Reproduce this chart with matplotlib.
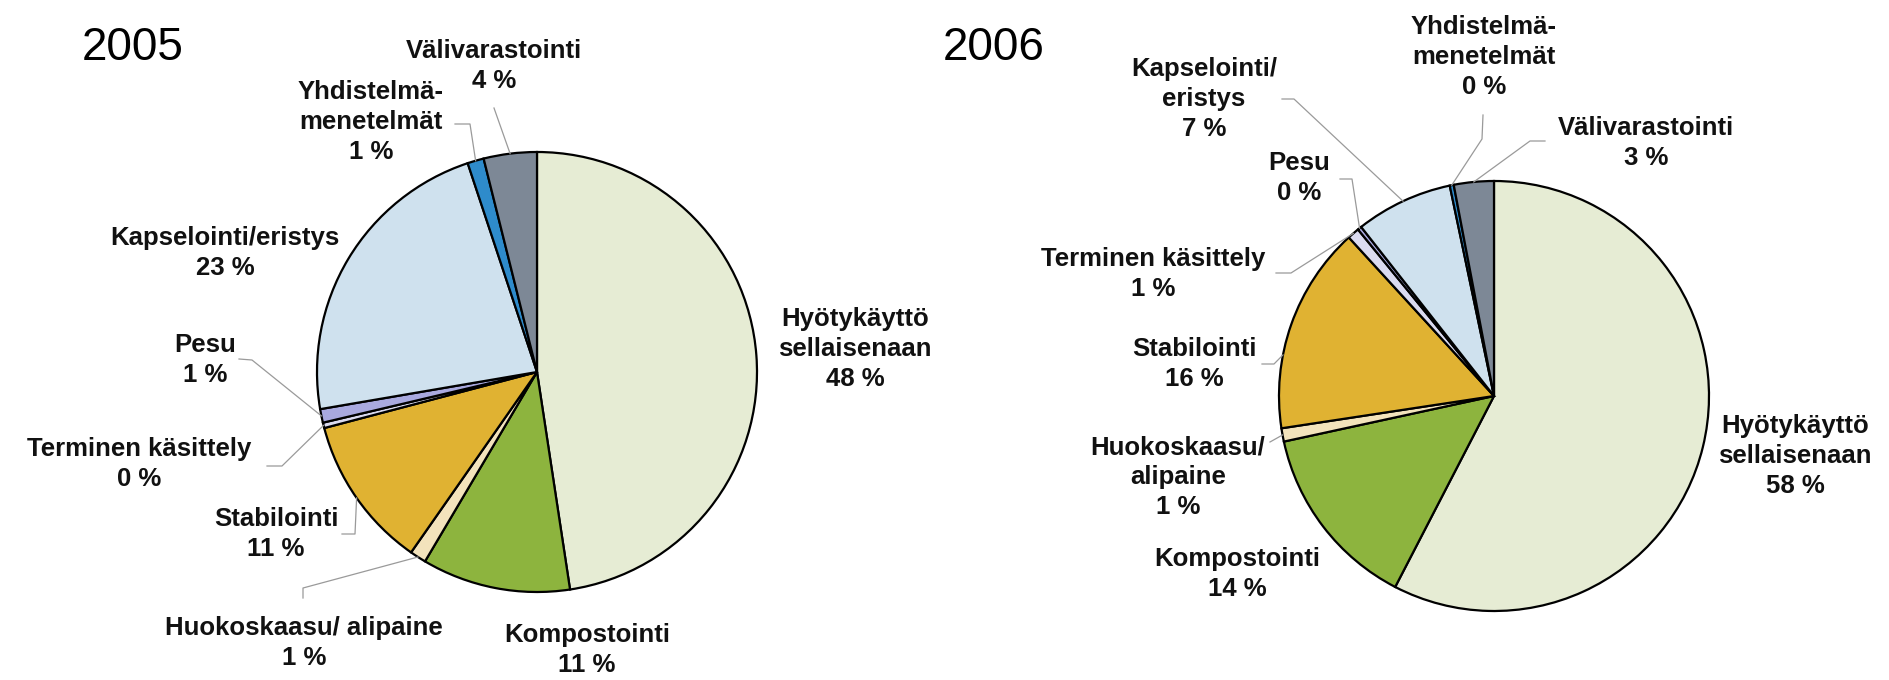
import numpy as np
import matplotlib
matplotlib.use("Agg")
import matplotlib.pyplot as plt

plt.rcParams['font.family'] = ['Liberation Sans', 'DejaVu Sans']

# osuudet (%) myötäpäivään ylhäältä alkaen
kategoriat = ["Hyötykäyttö\nsellaisenaan", "Kompostointi", "Huokoskaasu/ alipaine",
              "Stabilointi", "Terminen käsittely", "Pesu", "Kapselointi/eristys",
              "Yhdistelmä-\nmenetelmät", "Välivarastointi"]
kategoriat_2006 = ["Hyötykäyttö\nsellaisenaan", "Kompostointi", "Huokoskaasu/\nalipaine",
                   "Stabilointi", "Terminen käsittely", "Pesu", "Kapselointi/\neristys",
                   "Yhdistelmä-\nmenetelmät", "Välivarastointi"]
osuus_2005 = [47.6, 10.9, 1.2, 11.2, 0.4, 1.0, 22.6, 1.2, 3.9]
osuus_2006 = [57.6, 14.0, 1.0, 15.6, 0.9, 0.3, 7.3, 0.3, 3.0]
varit = ["#E6ECD4", "#8DB43E", "#F3E3BC", "#E0B232", "#DADAF0",
         "#A9A9DF", "#CFE1EE", "#2E8BCB", "#7D8896"]

W, H = 1889, 680
fig = plt.figure(figsize=(W / 100, H / 100), dpi=100)

# overlay kuvapikseleissä (y alaspäin)
ov = fig.add_axes([0, 0, 1, 1], zorder=5)
ov.set_xlim(0, W)
ov.set_ylim(H, 0)
ov.axis('off')


def piirra_piirakka(arvot, cx, cy, r, vuosi, vuosi_x, nimet, tekstit, johtimet):
    ax = fig.add_axes([(cx - r) / W, (H - cy - r) / H, 2 * r / W, 2 * r / H])
    ax.pie(arvot, colors=varit, startangle=90, counterclock=False,
           wedgeprops=dict(edgecolor='black', linewidth=1.6))
    ax.set_xlim(-1, 1)
    ax.set_ylim(-1, 1)
    ax.set_aspect('auto')

    ov.text(vuosi_x, 48, vuosi, fontsize=33, ha='left', va='center')

    kum = np.cumsum([0] + list(arvot)) / sum(arvot)
    for i, nimi in enumerate(nimet):
        tx, ty = tekstit[i]
        ov.text(tx, ty, f"{nimi}\n{round(arvot[i])} %", fontsize=18.5,
                fontweight='bold', ha='center', va='center', linespacing=1.3,
                color='#111111')
        if i in johtimet:
            pisteet, osa = johtimet[i]
            f = kum[i] + osa * (kum[i + 1] - kum[i])
            phi = 2 * np.pi * f
            ex = cx + r * np.sin(phi)
            ey = cy - r * np.cos(phi)
            xs = [p[0] for p in pisteet] + [ex]
            ys = [p[1] for p in pisteet] + [ey]
            ov.plot(xs, ys, color='#9a9a9a', lw=0.9)


teksti_2005 = [(855, 349), (587, 650), (304, 643), (276, 534), (139, 464),
               (205, 360), (225, 253), (371, 122), (494, 66)]
johdin_2005 = {
    2: ([(303, 598), (303, 588)], 0.5),
    3: ([(342, 534), (355, 534)], 0.5),
    4: ([(267, 466), (282, 466)], 0.5),
    5: ([(239, 359), (252, 360)], 0.5),
    7: ([(455, 124), (470, 124)], 0.5),
    8: ([(494, 108)], 0.5),
}
piirra_piirakka(osuus_2005, 537, 372, 220, "2005", 82, kategoriat,
                teksti_2005, johdin_2005)

teksti_2006 = [(1795, 456), (1237, 574), (1178, 477), (1194, 364), (1153, 274),
               (1299, 178), (1204, 99), (1484, 57), (1646, 143)]
johdin_2006 = {
    2: ([(1270, 442)], 0.5),
    3: ([(1262, 364), (1274, 364)], 0.35),
    4: ([(1276, 273), (1291, 273)], 0.5),
    5: ([(1340, 179), (1352, 179)], 0.5),
    6: ([(1282, 99), (1294, 99)], 0.5),
    7: ([(1483, 115), (1482, 139)], 0.5),
    8: ([(1545, 141), (1530, 141)], 0.5),
}
piirra_piirakka(osuus_2006, 1494, 396, 215, "2006", 943, kategoriat_2006,
                teksti_2006, johdin_2006)

fig.savefig("out.png", dpi=100)
